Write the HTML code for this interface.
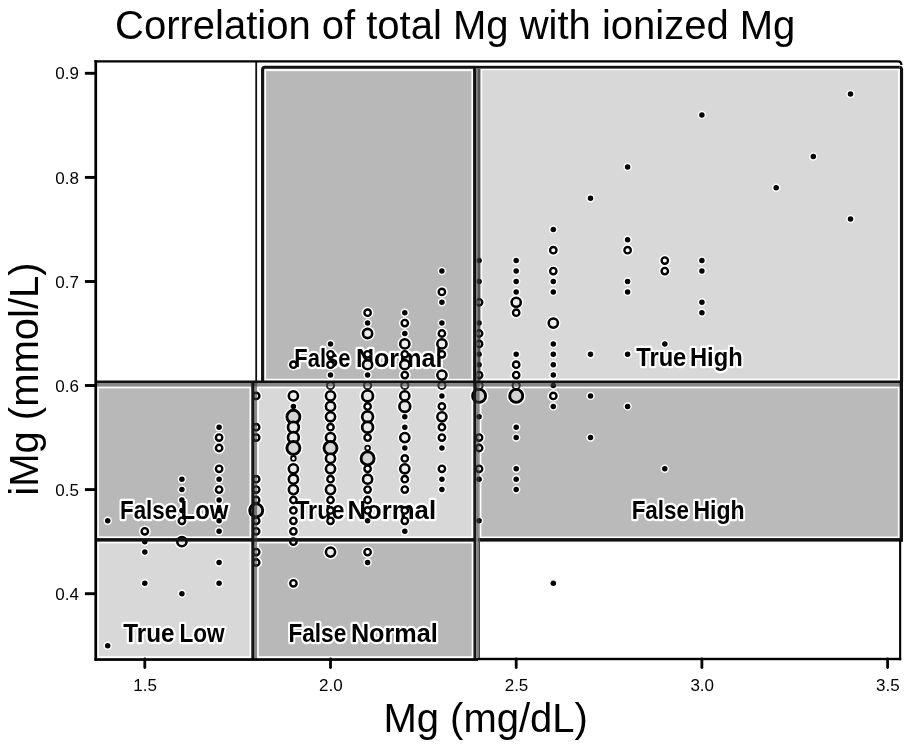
<!DOCTYPE html>
<html><head><meta charset="utf-8"><title>Correlation of total Mg with ionized Mg</title>
<style>
html,body{margin:0;padding:0;background:#fff;}
body{width:920px;height:753px;overflow:hidden;font-family:"Liberation Sans",sans-serif;}
svg{display:block;filter:grayscale(1);}
</style></head><body>
<svg width="920" height="753" viewBox="0 0 920 753" font-family="Liberation Sans, sans-serif"><rect width="920" height="753" fill="#fff"/><rect x="264.30" y="69.30" width="208.90" height="311.30" fill="#b8b8b8"/><rect x="480.40" y="68.40" width="419.30" height="312.00" fill="#d8d8d8"/><rect x="97.10" y="386.50" width="154.20" height="151.70" fill="#b8b8b8"/><rect x="257.00" y="386.50" width="216.30" height="151.70" fill="#d8d8d8"/><rect x="479.60" y="386.50" width="420.10" height="151.80" fill="#bababa"/><rect x="97.10" y="541.60" width="154.20" height="116.40" fill="#d8d8d8"/><rect x="257.00" y="541.60" width="216.50" height="116.40" fill="#b8b8b8"/><rect x="265.20" y="70.20" width="207.10" height="309.50" fill="none" stroke="#fff" stroke-width="1.8"/><rect x="481.30" y="69.30" width="417.50" height="310.20" fill="none" stroke="#fff" stroke-width="1.8"/><rect x="98.00" y="387.40" width="152.40" height="149.90" fill="none" stroke="#fff" stroke-width="1.8"/><rect x="257.90" y="387.40" width="214.50" height="149.90" fill="none" stroke="#fff" stroke-width="1.8"/><rect x="480.50" y="387.40" width="418.30" height="150.00" fill="none" stroke="#fff" stroke-width="1.8"/><rect x="98.00" y="542.50" width="152.40" height="114.60" fill="none" stroke="#fff" stroke-width="1.8"/><rect x="257.90" y="542.50" width="214.70" height="114.60" fill="none" stroke="#fff" stroke-width="1.8"/><g fill="#fff"><circle cx="107.7" cy="520.8" r="4.2"/><circle cx="107.7" cy="645.7" r="4.2"/><circle cx="144.8" cy="531.3" r="5.9"/><circle cx="144.8" cy="541.7" r="4.2"/><circle cx="144.8" cy="552.1" r="4.2"/><circle cx="144.8" cy="583.3" r="4.2"/><circle cx="181.9" cy="479.2" r="4.2"/><circle cx="181.9" cy="489.6" r="4.2"/><circle cx="181.9" cy="500.0" r="4.2"/><circle cx="181.9" cy="510.4" r="4.2"/><circle cx="181.9" cy="520.8" r="5.9"/><circle cx="181.9" cy="541.7" r="7.3"/><circle cx="181.9" cy="593.7" r="4.2"/><circle cx="219.1" cy="427.2" r="4.2"/><circle cx="219.1" cy="437.6" r="5.9"/><circle cx="219.1" cy="448.0" r="5.9"/><circle cx="219.1" cy="468.8" r="5.9"/><circle cx="219.1" cy="479.2" r="4.2"/><circle cx="219.1" cy="489.6" r="5.9"/><circle cx="219.1" cy="500.0" r="4.2"/><circle cx="219.1" cy="510.4" r="4.2"/><circle cx="219.1" cy="520.8" r="4.2"/><circle cx="219.1" cy="531.3" r="4.2"/><circle cx="219.1" cy="562.5" r="4.2"/><circle cx="219.1" cy="583.3" r="4.2"/><circle cx="256.2" cy="395.9" r="5.9"/><circle cx="256.2" cy="427.2" r="5.9"/><circle cx="256.2" cy="437.6" r="5.9"/><circle cx="256.2" cy="479.2" r="5.9"/><circle cx="256.2" cy="489.6" r="5.9"/><circle cx="256.2" cy="500.0" r="5.9"/><circle cx="256.2" cy="510.4" r="9.4"/><circle cx="256.2" cy="520.8" r="5.9"/><circle cx="256.2" cy="531.3" r="5.9"/><circle cx="256.2" cy="552.1" r="5.9"/><circle cx="256.2" cy="562.5" r="5.9"/><circle cx="293.4" cy="364.7" r="5.9"/><circle cx="293.4" cy="395.9" r="7.3"/><circle cx="293.4" cy="406.4" r="4.2"/><circle cx="293.4" cy="416.8" r="9.4"/><circle cx="293.4" cy="427.2" r="8.2"/><circle cx="293.4" cy="437.6" r="8.2"/><circle cx="293.4" cy="448.0" r="9.4"/><circle cx="293.4" cy="458.4" r="4.0"/><circle cx="293.4" cy="468.8" r="7.3"/><circle cx="293.4" cy="479.2" r="7.3"/><circle cx="293.4" cy="489.6" r="7.3"/><circle cx="293.4" cy="500.0" r="5.9"/><circle cx="293.4" cy="510.4" r="5.9"/><circle cx="293.4" cy="520.8" r="5.9"/><circle cx="293.4" cy="531.3" r="5.9"/><circle cx="293.4" cy="541.7" r="5.9"/><circle cx="293.4" cy="583.3" r="5.9"/><circle cx="330.5" cy="343.9" r="4.2"/><circle cx="330.5" cy="354.3" r="5.9"/><circle cx="330.5" cy="364.7" r="5.9"/><circle cx="330.5" cy="375.1" r="4.2"/><circle cx="330.5" cy="385.5" r="6.0"/><circle cx="330.5" cy="395.9" r="7.3"/><circle cx="330.5" cy="406.4" r="7.3"/><circle cx="330.5" cy="416.8" r="7.3"/><circle cx="330.5" cy="427.2" r="5.9"/><circle cx="330.5" cy="437.6" r="7.3"/><circle cx="330.5" cy="448.0" r="9.4"/><circle cx="330.5" cy="458.4" r="7.3"/><circle cx="330.5" cy="468.8" r="7.3"/><circle cx="330.5" cy="479.2" r="5.9"/><circle cx="330.5" cy="489.6" r="7.3"/><circle cx="330.5" cy="500.0" r="5.9"/><circle cx="330.5" cy="510.4" r="5.9"/><circle cx="330.5" cy="520.8" r="5.9"/><circle cx="330.5" cy="552.1" r="7.3"/><circle cx="367.6" cy="312.7" r="5.9"/><circle cx="367.6" cy="323.1" r="4.2"/><circle cx="367.6" cy="333.5" r="7.3"/><circle cx="367.6" cy="354.3" r="5.9"/><circle cx="367.6" cy="364.7" r="7.3"/><circle cx="367.6" cy="375.1" r="4.2"/><circle cx="367.6" cy="385.5" r="6.0"/><circle cx="367.6" cy="395.9" r="8.2"/><circle cx="367.6" cy="406.4" r="5.9"/><circle cx="367.6" cy="416.8" r="8.2"/><circle cx="367.6" cy="427.2" r="8.2"/><circle cx="367.6" cy="437.6" r="5.9"/><circle cx="367.6" cy="448.0" r="4.0"/><circle cx="367.6" cy="458.4" r="9.4"/><circle cx="367.6" cy="468.8" r="5.9"/><circle cx="367.6" cy="479.2" r="7.3"/><circle cx="367.6" cy="489.6" r="5.9"/><circle cx="367.6" cy="500.0" r="5.9"/><circle cx="367.6" cy="510.4" r="5.9"/><circle cx="367.6" cy="520.8" r="4.2"/><circle cx="367.6" cy="552.1" r="5.9"/><circle cx="367.6" cy="562.5" r="4.2"/><circle cx="404.8" cy="312.7" r="4.2"/><circle cx="404.8" cy="323.1" r="5.9"/><circle cx="404.8" cy="333.5" r="4.2"/><circle cx="404.8" cy="343.9" r="7.3"/><circle cx="404.8" cy="354.3" r="5.9"/><circle cx="404.8" cy="364.7" r="7.3"/><circle cx="404.8" cy="375.1" r="5.9"/><circle cx="404.8" cy="385.5" r="6.0"/><circle cx="404.8" cy="395.9" r="7.3"/><circle cx="404.8" cy="406.4" r="8.2"/><circle cx="404.8" cy="416.8" r="4.2"/><circle cx="404.8" cy="427.2" r="4.2"/><circle cx="404.8" cy="437.6" r="7.3"/><circle cx="404.8" cy="448.0" r="4.2"/><circle cx="404.8" cy="458.4" r="5.9"/><circle cx="404.8" cy="468.8" r="7.3"/><circle cx="404.8" cy="479.2" r="5.9"/><circle cx="404.8" cy="489.6" r="5.9"/><circle cx="404.8" cy="510.4" r="5.9"/><circle cx="404.8" cy="520.8" r="5.9"/><circle cx="404.8" cy="531.3" r="4.2"/><circle cx="441.9" cy="271.1" r="4.2"/><circle cx="441.9" cy="291.9" r="5.9"/><circle cx="441.9" cy="302.3" r="4.2"/><circle cx="441.9" cy="323.1" r="4.2"/><circle cx="441.9" cy="333.5" r="5.9"/><circle cx="441.9" cy="343.9" r="7.3"/><circle cx="441.9" cy="354.3" r="5.9"/><circle cx="441.9" cy="375.1" r="7.3"/><circle cx="441.9" cy="385.5" r="6.0"/><circle cx="441.9" cy="395.9" r="4.2"/><circle cx="441.9" cy="406.4" r="5.9"/><circle cx="441.9" cy="416.8" r="7.3"/><circle cx="441.9" cy="427.2" r="5.9"/><circle cx="441.9" cy="437.6" r="5.9"/><circle cx="441.9" cy="448.0" r="4.2"/><circle cx="441.9" cy="468.8" r="5.9"/><circle cx="441.9" cy="479.2" r="4.2"/><circle cx="441.9" cy="489.6" r="4.2"/><circle cx="479.1" cy="260.6" r="4.2"/><circle cx="479.1" cy="281.5" r="4.2"/><circle cx="479.1" cy="302.3" r="5.9"/><circle cx="479.1" cy="323.1" r="4.2"/><circle cx="479.1" cy="333.5" r="5.9"/><circle cx="479.1" cy="343.9" r="5.9"/><circle cx="479.1" cy="354.3" r="4.2"/><circle cx="479.1" cy="364.7" r="4.2"/><circle cx="479.1" cy="375.1" r="5.9"/><circle cx="479.1" cy="385.5" r="6.0"/><circle cx="479.1" cy="395.9" r="9.4"/><circle cx="479.1" cy="416.8" r="4.2"/><circle cx="479.1" cy="437.6" r="5.9"/><circle cx="479.1" cy="448.0" r="5.9"/><circle cx="479.1" cy="468.8" r="5.9"/><circle cx="479.1" cy="479.2" r="4.2"/><circle cx="479.1" cy="520.8" r="4.2"/><circle cx="516.2" cy="260.6" r="4.2"/><circle cx="516.2" cy="271.1" r="4.2"/><circle cx="516.2" cy="281.5" r="4.2"/><circle cx="516.2" cy="291.9" r="4.2"/><circle cx="516.2" cy="302.3" r="7.3"/><circle cx="516.2" cy="312.7" r="5.9"/><circle cx="516.2" cy="354.3" r="4.2"/><circle cx="516.2" cy="364.7" r="5.9"/><circle cx="516.2" cy="375.1" r="5.9"/><circle cx="516.2" cy="385.5" r="6.0"/><circle cx="516.2" cy="395.9" r="9.4"/><circle cx="516.2" cy="427.2" r="4.2"/><circle cx="516.2" cy="437.6" r="4.2"/><circle cx="516.2" cy="468.8" r="4.2"/><circle cx="516.2" cy="479.2" r="4.2"/><circle cx="516.2" cy="489.6" r="4.2"/><circle cx="553.3" cy="229.4" r="4.2"/><circle cx="553.3" cy="250.2" r="5.9"/><circle cx="553.3" cy="271.1" r="5.9"/><circle cx="553.3" cy="281.5" r="4.2"/><circle cx="553.3" cy="291.9" r="4.2"/><circle cx="553.3" cy="323.1" r="7.3"/><circle cx="553.3" cy="343.9" r="4.2"/><circle cx="553.3" cy="354.3" r="4.2"/><circle cx="553.3" cy="364.7" r="4.2"/><circle cx="553.3" cy="375.1" r="4.2"/><circle cx="553.3" cy="385.5" r="4.2"/><circle cx="553.3" cy="395.9" r="5.9"/><circle cx="553.3" cy="406.4" r="4.2"/><circle cx="553.3" cy="583.3" r="4.2"/><circle cx="590.5" cy="198.2" r="4.2"/><circle cx="590.5" cy="354.3" r="4.2"/><circle cx="590.5" cy="395.9" r="4.2"/><circle cx="590.5" cy="437.6" r="4.2"/><circle cx="627.6" cy="167.0" r="4.2"/><circle cx="627.6" cy="239.8" r="4.2"/><circle cx="627.6" cy="250.2" r="5.9"/><circle cx="627.6" cy="281.5" r="4.2"/><circle cx="627.6" cy="291.9" r="4.2"/><circle cx="627.6" cy="354.3" r="4.2"/><circle cx="627.6" cy="406.4" r="4.2"/><circle cx="664.8" cy="260.6" r="5.9"/><circle cx="664.8" cy="271.1" r="5.9"/><circle cx="664.8" cy="343.9" r="4.2"/><circle cx="664.8" cy="468.8" r="4.2"/><circle cx="701.9" cy="114.9" r="4.2"/><circle cx="701.9" cy="260.6" r="4.2"/><circle cx="701.9" cy="271.1" r="4.2"/><circle cx="701.9" cy="302.3" r="4.2"/><circle cx="701.9" cy="312.7" r="4.2"/><circle cx="776.2" cy="187.8" r="4.2"/><circle cx="813.3" cy="156.6" r="4.2"/><circle cx="850.5" cy="94.1" r="4.2"/><circle cx="850.5" cy="219.0" r="4.2"/></g><text x="294.33" y="366.5" font-size="25.5" font-weight="bold" textLength="56.02" lengthAdjust="spacingAndGlyphs" stroke="#fff" stroke-width="4.4" stroke-linejoin="round" fill="#fff">False</text><text x="355.92" y="366.5" font-size="25.5" font-weight="bold" textLength="86.47" lengthAdjust="spacingAndGlyphs" stroke="#fff" stroke-width="4.4" stroke-linejoin="round" fill="#fff">Normal</text><text x="636.24" y="366.2" font-size="25.5" font-weight="bold" textLength="50.06" lengthAdjust="spacingAndGlyphs" stroke="#fff" stroke-width="4.4" stroke-linejoin="round" fill="#fff">True</text><text x="690.01" y="366.2" font-size="25.5" font-weight="bold" textLength="52.65" lengthAdjust="spacingAndGlyphs" stroke="#fff" stroke-width="4.4" stroke-linejoin="round" fill="#fff">High</text><text x="120.01" y="518.5" font-size="25.5" font-weight="bold" textLength="57.06" lengthAdjust="spacingAndGlyphs" stroke="#fff" stroke-width="4.4" stroke-linejoin="round" fill="#fff">False</text><text x="180.60" y="518.5" font-size="25.5" font-weight="bold" textLength="47.84" lengthAdjust="spacingAndGlyphs" stroke="#fff" stroke-width="4.4" stroke-linejoin="round" fill="#fff">Low</text><text x="295.14" y="519" font-size="25.5" font-weight="bold" textLength="49.35" lengthAdjust="spacingAndGlyphs" stroke="#fff" stroke-width="4.4" stroke-linejoin="round" fill="#fff">True</text><text x="347.48" y="519" font-size="25.5" font-weight="bold" textLength="88.56" lengthAdjust="spacingAndGlyphs" stroke="#fff" stroke-width="4.4" stroke-linejoin="round" fill="#fff">Normal</text><text x="631.70" y="519" font-size="25.5" font-weight="bold" textLength="57.26" lengthAdjust="spacingAndGlyphs" stroke="#fff" stroke-width="4.4" stroke-linejoin="round" fill="#fff">False</text><text x="693.46" y="519" font-size="25.5" font-weight="bold" textLength="51.16" lengthAdjust="spacingAndGlyphs" stroke="#fff" stroke-width="4.4" stroke-linejoin="round" fill="#fff">High</text><text x="123.23" y="641.7" font-size="25.5" font-weight="bold" textLength="51.29" lengthAdjust="spacingAndGlyphs" stroke="#fff" stroke-width="4.4" stroke-linejoin="round" fill="#fff">True</text><text x="179.39" y="641.7" font-size="25.5" font-weight="bold" textLength="45.16" lengthAdjust="spacingAndGlyphs" stroke="#fff" stroke-width="4.4" stroke-linejoin="round" fill="#fff">Low</text><text x="288.38" y="641.5" font-size="25.5" font-weight="bold" textLength="57.89" lengthAdjust="spacingAndGlyphs" stroke="#fff" stroke-width="4.4" stroke-linejoin="round" fill="#fff">False</text><text x="350.91" y="641.5" font-size="25.5" font-weight="bold" textLength="86.89" lengthAdjust="spacingAndGlyphs" stroke="#fff" stroke-width="4.4" stroke-linejoin="round" fill="#fff">Normal</text><text x="294.33" y="366.5" font-size="25.5" font-weight="bold" textLength="56.02" lengthAdjust="spacingAndGlyphs" fill="#000">False</text><text x="355.92" y="366.5" font-size="25.5" font-weight="bold" textLength="86.47" lengthAdjust="spacingAndGlyphs" fill="#000">Normal</text><text x="636.24" y="366.2" font-size="25.5" font-weight="bold" textLength="50.06" lengthAdjust="spacingAndGlyphs" fill="#000">True</text><text x="690.01" y="366.2" font-size="25.5" font-weight="bold" textLength="52.65" lengthAdjust="spacingAndGlyphs" fill="#000">High</text><text x="120.01" y="518.5" font-size="25.5" font-weight="bold" textLength="57.06" lengthAdjust="spacingAndGlyphs" fill="#000">False</text><text x="180.60" y="518.5" font-size="25.5" font-weight="bold" textLength="47.84" lengthAdjust="spacingAndGlyphs" fill="#000">Low</text><text x="295.14" y="519" font-size="25.5" font-weight="bold" textLength="49.35" lengthAdjust="spacingAndGlyphs" fill="#000">True</text><text x="347.48" y="519" font-size="25.5" font-weight="bold" textLength="88.56" lengthAdjust="spacingAndGlyphs" fill="#000">Normal</text><text x="631.70" y="519" font-size="25.5" font-weight="bold" textLength="57.26" lengthAdjust="spacingAndGlyphs" fill="#000">False</text><text x="693.46" y="519" font-size="25.5" font-weight="bold" textLength="51.16" lengthAdjust="spacingAndGlyphs" fill="#000">High</text><text x="123.23" y="641.7" font-size="25.5" font-weight="bold" textLength="51.29" lengthAdjust="spacingAndGlyphs" fill="#000">True</text><text x="179.39" y="641.7" font-size="25.5" font-weight="bold" textLength="45.16" lengthAdjust="spacingAndGlyphs" fill="#000">Low</text><text x="288.38" y="641.5" font-size="25.5" font-weight="bold" textLength="57.89" lengthAdjust="spacingAndGlyphs" fill="#000">False</text><text x="350.91" y="641.5" font-size="25.5" font-weight="bold" textLength="86.89" lengthAdjust="spacingAndGlyphs" fill="#000">Normal</text><circle cx="107.7" cy="520.8" r="2.75" fill="#000"/><circle cx="107.7" cy="645.7" r="2.75" fill="#000"/><circle cx="144.8" cy="531.3" r="3.2" fill="#fff" stroke="#000" stroke-width="2.4"/><circle cx="144.8" cy="541.7" r="2.75" fill="#000"/><circle cx="144.8" cy="552.1" r="2.75" fill="#000"/><circle cx="144.8" cy="583.3" r="2.75" fill="#000"/><circle cx="181.9" cy="479.2" r="2.75" fill="#000"/><circle cx="181.9" cy="489.6" r="2.75" fill="#000"/><circle cx="181.9" cy="500.0" r="2.75" fill="#000"/><circle cx="181.9" cy="510.4" r="2.75" fill="#000"/><circle cx="181.9" cy="520.8" r="3.2" fill="#fff" stroke="#000" stroke-width="2.4"/><circle cx="181.9" cy="541.7" r="4.6" fill="#eeeeee" stroke="#000" stroke-width="2.6"/><circle cx="181.9" cy="593.7" r="2.75" fill="#000"/><circle cx="219.1" cy="427.2" r="2.75" fill="#000"/><circle cx="219.1" cy="437.6" r="3.2" fill="#fff" stroke="#000" stroke-width="2.4"/><circle cx="219.1" cy="448.0" r="3.2" fill="#fff" stroke="#000" stroke-width="2.4"/><circle cx="219.1" cy="468.8" r="3.2" fill="#fff" stroke="#000" stroke-width="2.4"/><circle cx="219.1" cy="479.2" r="2.75" fill="#000"/><circle cx="219.1" cy="489.6" r="3.2" fill="#fff" stroke="#000" stroke-width="2.4"/><circle cx="219.1" cy="500.0" r="2.75" fill="#000"/><circle cx="219.1" cy="510.4" r="2.75" fill="#000"/><circle cx="219.1" cy="520.8" r="2.75" fill="#000"/><circle cx="219.1" cy="531.3" r="2.75" fill="#000"/><circle cx="219.1" cy="562.5" r="2.75" fill="#000"/><circle cx="219.1" cy="583.3" r="2.75" fill="#000"/><circle cx="256.2" cy="395.9" r="3.2" fill="#fff" stroke="#000" stroke-width="2.4"/><circle cx="256.2" cy="427.2" r="3.2" fill="#fff" stroke="#000" stroke-width="2.4"/><circle cx="256.2" cy="437.6" r="3.2" fill="#fff" stroke="#000" stroke-width="2.4"/><circle cx="256.2" cy="479.2" r="3.2" fill="#fff" stroke="#000" stroke-width="2.4"/><circle cx="256.2" cy="489.6" r="3.2" fill="#fff" stroke="#000" stroke-width="2.4"/><circle cx="256.2" cy="500.0" r="3.2" fill="#fff" stroke="#000" stroke-width="2.4"/><circle cx="256.2" cy="510.4" r="6.5" fill="#d4d4d4" stroke="#000" stroke-width="2.9"/><circle cx="256.2" cy="520.8" r="3.2" fill="#fff" stroke="#000" stroke-width="2.4"/><circle cx="256.2" cy="531.3" r="3.2" fill="#fff" stroke="#000" stroke-width="2.4"/><circle cx="256.2" cy="552.1" r="3.2" fill="#fff" stroke="#000" stroke-width="2.4"/><circle cx="256.2" cy="562.5" r="3.2" fill="#fff" stroke="#000" stroke-width="2.4"/><circle cx="293.4" cy="364.7" r="3.2" fill="#fff" stroke="#000" stroke-width="2.4"/><circle cx="293.4" cy="395.9" r="4.6" fill="#eeeeee" stroke="#000" stroke-width="2.6"/><circle cx="293.4" cy="406.4" r="2.75" fill="#000"/><circle cx="293.4" cy="416.8" r="6.5" fill="#d4d4d4" stroke="#000" stroke-width="2.9"/><circle cx="293.4" cy="427.2" r="5.4" fill="#e6e6e6" stroke="#000" stroke-width="2.7"/><circle cx="293.4" cy="437.6" r="5.4" fill="#e6e6e6" stroke="#000" stroke-width="2.7"/><circle cx="293.4" cy="448.0" r="6.5" fill="#d4d4d4" stroke="#000" stroke-width="2.9"/><circle cx="293.4" cy="458.4" r="2.4" fill="#fff" stroke="#000" stroke-width="1.8"/><circle cx="293.4" cy="468.8" r="4.6" fill="#eeeeee" stroke="#000" stroke-width="2.6"/><circle cx="293.4" cy="479.2" r="4.6" fill="#eeeeee" stroke="#000" stroke-width="2.6"/><circle cx="293.4" cy="489.6" r="4.6" fill="#eeeeee" stroke="#000" stroke-width="2.6"/><circle cx="293.4" cy="500.0" r="3.2" fill="#fff" stroke="#000" stroke-width="2.4"/><circle cx="293.4" cy="510.4" r="3.2" fill="#fff" stroke="#000" stroke-width="2.4"/><circle cx="293.4" cy="520.8" r="3.2" fill="#fff" stroke="#000" stroke-width="2.4"/><circle cx="293.4" cy="531.3" r="3.2" fill="#fff" stroke="#000" stroke-width="2.4"/><circle cx="293.4" cy="541.7" r="3.2" fill="#fff" stroke="#000" stroke-width="2.4"/><circle cx="293.4" cy="583.3" r="3.2" fill="#fff" stroke="#000" stroke-width="2.4"/><circle cx="330.5" cy="343.9" r="2.75" fill="#000"/><circle cx="330.5" cy="354.3" r="3.2" fill="#fff" stroke="#000" stroke-width="2.4"/><circle cx="330.5" cy="364.7" r="3.2" fill="#fff" stroke="#000" stroke-width="2.4"/><circle cx="330.5" cy="375.1" r="2.75" fill="#000"/><circle cx="330.5" cy="385.5" r="3.6" fill="#f4f4f4" stroke="#222" stroke-width="2.0"/><circle cx="330.5" cy="395.9" r="4.6" fill="#eeeeee" stroke="#000" stroke-width="2.6"/><circle cx="330.5" cy="406.4" r="4.6" fill="#eeeeee" stroke="#000" stroke-width="2.6"/><circle cx="330.5" cy="416.8" r="4.6" fill="#eeeeee" stroke="#000" stroke-width="2.6"/><circle cx="330.5" cy="427.2" r="3.2" fill="#fff" stroke="#000" stroke-width="2.4"/><circle cx="330.5" cy="437.6" r="4.6" fill="#eeeeee" stroke="#000" stroke-width="2.6"/><circle cx="330.5" cy="448.0" r="6.5" fill="#d4d4d4" stroke="#000" stroke-width="2.9"/><circle cx="330.5" cy="458.4" r="4.6" fill="#eeeeee" stroke="#000" stroke-width="2.6"/><circle cx="330.5" cy="468.8" r="4.6" fill="#eeeeee" stroke="#000" stroke-width="2.6"/><circle cx="330.5" cy="479.2" r="3.2" fill="#fff" stroke="#000" stroke-width="2.4"/><circle cx="330.5" cy="489.6" r="4.6" fill="#eeeeee" stroke="#000" stroke-width="2.6"/><circle cx="330.5" cy="500.0" r="3.2" fill="#fff" stroke="#000" stroke-width="2.4"/><circle cx="330.5" cy="510.4" r="3.2" fill="#fff" stroke="#000" stroke-width="2.4"/><circle cx="330.5" cy="520.8" r="3.2" fill="#fff" stroke="#000" stroke-width="2.4"/><circle cx="330.5" cy="552.1" r="4.6" fill="#eeeeee" stroke="#000" stroke-width="2.6"/><circle cx="367.6" cy="312.7" r="3.2" fill="#fff" stroke="#000" stroke-width="2.4"/><circle cx="367.6" cy="323.1" r="2.75" fill="#000"/><circle cx="367.6" cy="333.5" r="4.6" fill="#eeeeee" stroke="#000" stroke-width="2.6"/><circle cx="367.6" cy="354.3" r="3.2" fill="#fff" stroke="#000" stroke-width="2.4"/><circle cx="367.6" cy="364.7" r="4.6" fill="#eeeeee" stroke="#000" stroke-width="2.6"/><circle cx="367.6" cy="375.1" r="2.75" fill="#000"/><circle cx="367.6" cy="385.5" r="3.6" fill="#f4f4f4" stroke="#222" stroke-width="2.0"/><circle cx="367.6" cy="395.9" r="5.4" fill="#e6e6e6" stroke="#000" stroke-width="2.7"/><circle cx="367.6" cy="406.4" r="3.2" fill="#fff" stroke="#000" stroke-width="2.4"/><circle cx="367.6" cy="416.8" r="5.4" fill="#e6e6e6" stroke="#000" stroke-width="2.7"/><circle cx="367.6" cy="427.2" r="5.4" fill="#e6e6e6" stroke="#000" stroke-width="2.7"/><circle cx="367.6" cy="437.6" r="3.2" fill="#fff" stroke="#000" stroke-width="2.4"/><circle cx="367.6" cy="448.0" r="2.4" fill="#fff" stroke="#000" stroke-width="1.8"/><circle cx="367.6" cy="458.4" r="6.5" fill="#d4d4d4" stroke="#000" stroke-width="2.9"/><circle cx="367.6" cy="468.8" r="3.2" fill="#fff" stroke="#000" stroke-width="2.4"/><circle cx="367.6" cy="479.2" r="4.6" fill="#eeeeee" stroke="#000" stroke-width="2.6"/><circle cx="367.6" cy="489.6" r="3.2" fill="#fff" stroke="#000" stroke-width="2.4"/><circle cx="367.6" cy="500.0" r="3.2" fill="#fff" stroke="#000" stroke-width="2.4"/><circle cx="367.6" cy="510.4" r="3.2" fill="#fff" stroke="#000" stroke-width="2.4"/><circle cx="367.6" cy="520.8" r="2.75" fill="#000"/><circle cx="367.6" cy="552.1" r="3.2" fill="#fff" stroke="#000" stroke-width="2.4"/><circle cx="367.6" cy="562.5" r="2.75" fill="#000"/><circle cx="404.8" cy="312.7" r="2.75" fill="#000"/><circle cx="404.8" cy="323.1" r="3.2" fill="#fff" stroke="#000" stroke-width="2.4"/><circle cx="404.8" cy="333.5" r="2.75" fill="#000"/><circle cx="404.8" cy="343.9" r="4.6" fill="#eeeeee" stroke="#000" stroke-width="2.6"/><circle cx="404.8" cy="354.3" r="3.2" fill="#fff" stroke="#000" stroke-width="2.4"/><circle cx="404.8" cy="364.7" r="4.6" fill="#eeeeee" stroke="#000" stroke-width="2.6"/><circle cx="404.8" cy="375.1" r="3.2" fill="#fff" stroke="#000" stroke-width="2.4"/><circle cx="404.8" cy="385.5" r="3.6" fill="#f4f4f4" stroke="#222" stroke-width="2.0"/><circle cx="404.8" cy="395.9" r="4.6" fill="#eeeeee" stroke="#000" stroke-width="2.6"/><circle cx="404.8" cy="406.4" r="5.4" fill="#e6e6e6" stroke="#000" stroke-width="2.7"/><circle cx="404.8" cy="416.8" r="2.75" fill="#000"/><circle cx="404.8" cy="427.2" r="2.75" fill="#000"/><circle cx="404.8" cy="437.6" r="4.6" fill="#eeeeee" stroke="#000" stroke-width="2.6"/><circle cx="404.8" cy="448.0" r="2.75" fill="#000"/><circle cx="404.8" cy="458.4" r="3.2" fill="#fff" stroke="#000" stroke-width="2.4"/><circle cx="404.8" cy="468.8" r="4.6" fill="#eeeeee" stroke="#000" stroke-width="2.6"/><circle cx="404.8" cy="479.2" r="3.2" fill="#fff" stroke="#000" stroke-width="2.4"/><circle cx="404.8" cy="489.6" r="3.2" fill="#fff" stroke="#000" stroke-width="2.4"/><circle cx="404.8" cy="510.4" r="3.2" fill="#fff" stroke="#000" stroke-width="2.4"/><circle cx="404.8" cy="520.8" r="3.2" fill="#fff" stroke="#000" stroke-width="2.4"/><circle cx="404.8" cy="531.3" r="2.75" fill="#000"/><circle cx="441.9" cy="271.1" r="2.75" fill="#000"/><circle cx="441.9" cy="291.9" r="3.2" fill="#fff" stroke="#000" stroke-width="2.4"/><circle cx="441.9" cy="302.3" r="2.75" fill="#000"/><circle cx="441.9" cy="323.1" r="2.75" fill="#000"/><circle cx="441.9" cy="333.5" r="3.2" fill="#fff" stroke="#000" stroke-width="2.4"/><circle cx="441.9" cy="343.9" r="4.6" fill="#eeeeee" stroke="#000" stroke-width="2.6"/><circle cx="441.9" cy="354.3" r="3.2" fill="#fff" stroke="#000" stroke-width="2.4"/><circle cx="441.9" cy="375.1" r="4.6" fill="#eeeeee" stroke="#000" stroke-width="2.6"/><circle cx="441.9" cy="385.5" r="3.6" fill="#f4f4f4" stroke="#222" stroke-width="2.0"/><circle cx="441.9" cy="395.9" r="2.75" fill="#000"/><circle cx="441.9" cy="406.4" r="3.2" fill="#fff" stroke="#000" stroke-width="2.4"/><circle cx="441.9" cy="416.8" r="4.6" fill="#eeeeee" stroke="#000" stroke-width="2.6"/><circle cx="441.9" cy="427.2" r="3.2" fill="#fff" stroke="#000" stroke-width="2.4"/><circle cx="441.9" cy="437.6" r="3.2" fill="#fff" stroke="#000" stroke-width="2.4"/><circle cx="441.9" cy="448.0" r="2.75" fill="#000"/><circle cx="441.9" cy="468.8" r="3.2" fill="#fff" stroke="#000" stroke-width="2.4"/><circle cx="441.9" cy="479.2" r="2.75" fill="#000"/><circle cx="441.9" cy="489.6" r="2.75" fill="#000"/><circle cx="479.1" cy="260.6" r="2.75" fill="#000"/><circle cx="479.1" cy="281.5" r="2.75" fill="#000"/><circle cx="479.1" cy="302.3" r="3.2" fill="#fff" stroke="#000" stroke-width="2.4"/><circle cx="479.1" cy="323.1" r="2.75" fill="#000"/><circle cx="479.1" cy="333.5" r="3.2" fill="#fff" stroke="#000" stroke-width="2.4"/><circle cx="479.1" cy="343.9" r="3.2" fill="#fff" stroke="#000" stroke-width="2.4"/><circle cx="479.1" cy="354.3" r="2.75" fill="#000"/><circle cx="479.1" cy="364.7" r="2.75" fill="#000"/><circle cx="479.1" cy="375.1" r="3.2" fill="#fff" stroke="#000" stroke-width="2.4"/><circle cx="479.1" cy="385.5" r="3.6" fill="#f4f4f4" stroke="#222" stroke-width="2.0"/><circle cx="479.1" cy="395.9" r="6.5" fill="#d4d4d4" stroke="#000" stroke-width="2.9"/><circle cx="479.1" cy="416.8" r="2.75" fill="#000"/><circle cx="479.1" cy="437.6" r="3.2" fill="#fff" stroke="#000" stroke-width="2.4"/><circle cx="479.1" cy="448.0" r="3.2" fill="#fff" stroke="#000" stroke-width="2.4"/><circle cx="479.1" cy="468.8" r="3.2" fill="#fff" stroke="#000" stroke-width="2.4"/><circle cx="479.1" cy="479.2" r="2.75" fill="#000"/><circle cx="479.1" cy="520.8" r="2.75" fill="#000"/><circle cx="516.2" cy="260.6" r="2.75" fill="#000"/><circle cx="516.2" cy="271.1" r="2.75" fill="#000"/><circle cx="516.2" cy="281.5" r="2.75" fill="#000"/><circle cx="516.2" cy="291.9" r="2.75" fill="#000"/><circle cx="516.2" cy="302.3" r="4.6" fill="#eeeeee" stroke="#000" stroke-width="2.6"/><circle cx="516.2" cy="312.7" r="3.2" fill="#fff" stroke="#000" stroke-width="2.4"/><circle cx="516.2" cy="354.3" r="2.75" fill="#000"/><circle cx="516.2" cy="364.7" r="3.2" fill="#fff" stroke="#000" stroke-width="2.4"/><circle cx="516.2" cy="375.1" r="3.2" fill="#fff" stroke="#000" stroke-width="2.4"/><circle cx="516.2" cy="385.5" r="3.6" fill="#f4f4f4" stroke="#222" stroke-width="2.0"/><circle cx="516.2" cy="395.9" r="6.5" fill="#d4d4d4" stroke="#000" stroke-width="2.9"/><circle cx="516.2" cy="427.2" r="2.75" fill="#000"/><circle cx="516.2" cy="437.6" r="2.75" fill="#000"/><circle cx="516.2" cy="468.8" r="2.75" fill="#000"/><circle cx="516.2" cy="479.2" r="2.75" fill="#000"/><circle cx="516.2" cy="489.6" r="2.75" fill="#000"/><circle cx="553.3" cy="229.4" r="2.75" fill="#000"/><circle cx="553.3" cy="250.2" r="3.2" fill="#fff" stroke="#000" stroke-width="2.4"/><circle cx="553.3" cy="271.1" r="3.2" fill="#fff" stroke="#000" stroke-width="2.4"/><circle cx="553.3" cy="281.5" r="2.75" fill="#000"/><circle cx="553.3" cy="291.9" r="2.75" fill="#000"/><circle cx="553.3" cy="323.1" r="4.6" fill="#eeeeee" stroke="#000" stroke-width="2.6"/><circle cx="553.3" cy="343.9" r="2.75" fill="#000"/><circle cx="553.3" cy="354.3" r="2.75" fill="#000"/><circle cx="553.3" cy="364.7" r="2.75" fill="#000"/><circle cx="553.3" cy="375.1" r="2.75" fill="#000"/><circle cx="553.3" cy="385.5" r="2.75" fill="#000"/><circle cx="553.3" cy="395.9" r="3.2" fill="#fff" stroke="#000" stroke-width="2.4"/><circle cx="553.3" cy="406.4" r="2.75" fill="#000"/><circle cx="553.3" cy="583.3" r="2.75" fill="#000"/><circle cx="590.5" cy="198.2" r="2.75" fill="#000"/><circle cx="590.5" cy="354.3" r="2.75" fill="#000"/><circle cx="590.5" cy="395.9" r="2.75" fill="#000"/><circle cx="590.5" cy="437.6" r="2.75" fill="#000"/><circle cx="627.6" cy="167.0" r="2.75" fill="#000"/><circle cx="627.6" cy="239.8" r="2.75" fill="#000"/><circle cx="627.6" cy="250.2" r="3.2" fill="#fff" stroke="#000" stroke-width="2.4"/><circle cx="627.6" cy="281.5" r="2.75" fill="#000"/><circle cx="627.6" cy="291.9" r="2.75" fill="#000"/><circle cx="627.6" cy="354.3" r="2.75" fill="#000"/><circle cx="627.6" cy="406.4" r="2.75" fill="#000"/><circle cx="664.8" cy="260.6" r="3.2" fill="#fff" stroke="#000" stroke-width="2.4"/><circle cx="664.8" cy="271.1" r="3.2" fill="#fff" stroke="#000" stroke-width="2.4"/><circle cx="664.8" cy="343.9" r="2.75" fill="#000"/><circle cx="664.8" cy="468.8" r="2.75" fill="#000"/><circle cx="701.9" cy="114.9" r="2.75" fill="#000"/><circle cx="701.9" cy="260.6" r="2.75" fill="#000"/><circle cx="701.9" cy="271.1" r="2.75" fill="#000"/><circle cx="701.9" cy="302.3" r="2.75" fill="#000"/><circle cx="701.9" cy="312.7" r="2.75" fill="#000"/><circle cx="776.2" cy="187.8" r="2.75" fill="#000"/><circle cx="813.3" cy="156.6" r="2.75" fill="#000"/><circle cx="850.5" cy="94.1" r="2.75" fill="#000"/><circle cx="850.5" cy="219.0" r="2.75" fill="#000"/><path d="M262.6,381 V69.6 Q262.6,67.3 264.9,67.3 H476" fill="none" stroke="#111" stroke-width="3.1"/><rect x="476.00" y="65.80" width="423.40" height="2.80" fill="#111"/><path d="M899.4,67.2 Q901.5,67.2 901.5,69.3 V381" fill="none" stroke="#111" stroke-width="3.0"/><rect x="900.00" y="69.00" width="3.10" height="312.00" fill="#111"/><rect x="473.10" y="66.00" width="3.10" height="315.00" fill="#111"/><rect x="476.20" y="68.60" width="1.40" height="312.40" fill="#6a6a6a"/><rect x="477.60" y="68.60" width="2.80" height="312.40" fill="rgba(45,45,45,0.82)"/><rect x="255.30" y="61.00" width="1.80" height="320.00" fill="#111"/><rect x="95.00" y="380.50" width="808.00" height="2.70" fill="#111"/><rect x="95.00" y="383.20" width="808.00" height="3.30" fill="rgba(64,64,64,0.62)"/><rect x="95.00" y="538.10" width="808.00" height="3.50" fill="#111"/><rect x="251.30" y="383.00" width="3.20" height="276.00" fill="#161616"/><rect x="254.50" y="383.00" width="2.60" height="276.00" fill="rgba(64,64,64,0.62)"/><rect x="473.30" y="383.00" width="2.90" height="158.00" fill="#161616"/><rect x="476.20" y="383.00" width="3.40" height="158.00" fill="rgba(64,64,64,0.62)"/><rect x="473.50" y="538.00" width="2.60" height="122.00" fill="#161616"/><rect x="476.10" y="538.00" width="2.30" height="122.00" fill="#858585"/><rect x="478.40" y="538.00" width="1.60" height="122.00" fill="#444"/><rect x="899.70" y="381.00" width="3.30" height="160.60" fill="#111"/><path d="M94.4,61.3 H898 Q901.4,61.3 901.4,65" fill="none" stroke="#000" stroke-width="2.2"/><rect x="94.40" y="60.20" width="2.70" height="600.30" fill="#000"/><rect x="94.40" y="658.20" width="383.60" height="2.70" fill="#000"/><rect x="478.00" y="657.80" width="423.20" height="2.40" fill="#000"/><rect x="899.10" y="540.00" width="2.10" height="120.20" fill="#000"/><line x1="84.9" y1="593.7" x2="96" y2="593.7" stroke="#000" stroke-width="2.9"/><text x="79" y="599.8" text-anchor="end" font-size="17">0.4</text><line x1="84.9" y1="489.6" x2="96" y2="489.6" stroke="#000" stroke-width="2.9"/><text x="79" y="495.7" text-anchor="end" font-size="17">0.5</text><line x1="84.9" y1="385.5" x2="96" y2="385.5" stroke="#000" stroke-width="2.9"/><text x="79" y="391.6" text-anchor="end" font-size="17">0.6</text><line x1="84.9" y1="281.5" x2="96" y2="281.5" stroke="#000" stroke-width="2.9"/><text x="79" y="287.6" text-anchor="end" font-size="17">0.7</text><line x1="84.9" y1="177.4" x2="96" y2="177.4" stroke="#000" stroke-width="2.9"/><text x="79" y="183.5" text-anchor="end" font-size="17">0.8</text><line x1="84.9" y1="73.3" x2="96" y2="73.3" stroke="#000" stroke-width="2.9"/><text x="79" y="79.4" text-anchor="end" font-size="17">0.9</text><line x1="144.8" y1="659" x2="144.8" y2="667.6" stroke="#000" stroke-width="2.8" stroke-linecap="round"/><text x="145.1" y="691.4" text-anchor="middle" font-size="17">1.5</text><line x1="330.5" y1="659" x2="330.5" y2="667.6" stroke="#000" stroke-width="2.8" stroke-linecap="round"/><text x="330.8" y="691.4" text-anchor="middle" font-size="17">2.0</text><line x1="516.2" y1="659" x2="516.2" y2="667.6" stroke="#000" stroke-width="2.8" stroke-linecap="round"/><text x="516.5" y="691.4" text-anchor="middle" font-size="17">2.5</text><line x1="701.9" y1="659" x2="701.9" y2="667.6" stroke="#000" stroke-width="2.8" stroke-linecap="round"/><text x="702.2" y="691.4" text-anchor="middle" font-size="17">3.0</text><line x1="887.6" y1="659" x2="887.6" y2="667.6" stroke="#000" stroke-width="2.8" stroke-linecap="round"/><text x="887.9" y="691.4" text-anchor="middle" font-size="17">3.5</text><text x="115" y="39" font-size="40">Correlation of total Mg with ionized Mg</text><text x="383.4" y="731.5" font-size="40">Mg (mg/dL)</text><text transform="translate(37.7,495.7) rotate(-90)" x="0" y="0" font-size="40">iMg (mmol/L)</text></svg>
</body></html>
